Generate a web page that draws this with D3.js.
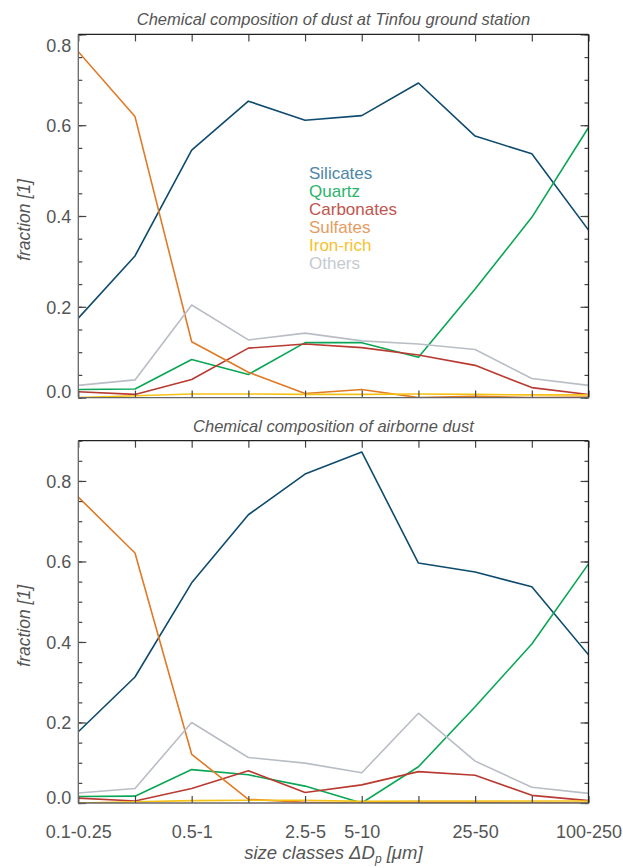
<!DOCTYPE html>
<html>
<head>
<meta charset="utf-8">
<script src="https://cdn.jsdelivr.net/npm/d3@7"></script>
<style>
  body { margin: 0; background: #fff; }
  svg { display: block; font-family: "Liberation Sans", Arial, Helvetica, sans-serif; }
</style>
</head>
<body>
<div class="chart"></div>
<script>
// size classes (um)
var categories = ["0.1-0.25", "0.25-0.5", "0.5-1", "1-2.5", "2.5-5", "5-10", "10-25", "25-50", "50-100", "100-250"];
var shownLabels = ["0.1-0.25", "0.5-1", "2.5-5", "5-10", "25-50", "100-250"];
var seriesNames = ["Silicates", "Quartz", "Carbonates", "Sulfates", "Iron-rich", "Others"];

// ground station
var groundSilicates  = [0.175, 0.312, 0.545, 0.653, 0.611, 0.621, 0.693, 0.576, 0.537, 0.369];
var groundQuartz     = [0.018, 0.019, 0.084, 0.051, 0.121, 0.121, 0.089, 0.239, 0.397, 0.595];
var groundCarbonates = [0.013, 0.007, 0.040, 0.109, 0.118, 0.110, 0.094, 0.071, 0.022, 0.007];
var groundSulfates   = [0.762, 0.619, 0.123, 0.056, 0.009, 0.018, 0.000, 0.003, 0.000, 0.001];
var groundIronRich   = [0.000, 0.004, 0.008, 0.008, 0.007, 0.007, 0.008, 0.007, 0.006, 0.006];
var groundOthers     = [0.027, 0.039, 0.204, 0.127, 0.142, 0.125, 0.118, 0.106, 0.042, 0.027];

// airborne
var airSilicates  = [0.177, 0.313, 0.547, 0.716, 0.817, 0.872, 0.596, 0.574, 0.537, 0.368];
var airQuartz     = [0.016, 0.017, 0.083, 0.070, 0.042, 0.000, 0.090, 0.239, 0.395, 0.594];
var airCarbonates = [0.012, 0.005, 0.036, 0.080, 0.026, 0.045, 0.078, 0.069, 0.019, 0.006];
var airSulfates   = [0.760, 0.621, 0.121, 0.009, 0.002, 0.000, 0.002, 0.002, 0.001, 0.000];
var airIronRich   = [0.000, 0.003, 0.006, 0.007, 0.007, 0.004, 0.005, 0.005, 0.005, 0.005];
var airOthers     = [0.025, 0.036, 0.200, 0.113, 0.099, 0.075, 0.223, 0.104, 0.039, 0.024];

var lineColors = ["#0e4b6f", "#0aa656", "#b93a31", "#e07a25", "#f5c214", "#b9bdc6"];
var legendColors = ["#4c86a8", "#2db46b", "#c1554d", "#e69c5f", "#f6c22e", "#c6cad1"];

var width = 623, height = 868;
var left = 78.3, right = 588.5;

var svg = d3.select(".chart").append("svg")
    .attr("width", width)
    .attr("height", height);

var x = d3.scalePoint().domain(categories).range([left, right]);

function drawPanel(id, top, bottom, ymax, series, title, showXLabels) {
    var y = d3.scaleLinear().domain([0, ymax]).range([bottom, top]);
    var g = svg.append("g").attr("class", "panel-" + id);

    g.append("clipPath").attr("id", "clip-" + id)
      .append("rect")
        .attr("x", left).attr("y", top)
        .attr("width", right - left).attr("height", bottom - top);

    // title
    g.append("text")
        .attr("x", (left + right) / 2)
        .attr("y", top - 9)
        .attr("text-anchor", "middle")
        .style("font-size", "16.5px")
        .style("font-style", "italic")
        .style("fill", "#555")
        .text(title);

    // lines
    var line = d3.line()
        .x(function(d, i) { return x(categories[i]); })
        .y(function(d) { return y(d); });

    g.append("g")
        .attr("clip-path", "url(#clip-" + id + ")")
      .selectAll("path")
        .data(series)
        .enter().append("path")
        .attr("d", line)
        .attr("fill", "none")
        .attr("stroke", function(d, i) { return lineColors[i]; })
        .attr("stroke-width", 1.6)
        .attr("stroke-linejoin", "round");

    var major = d3.range(0, ymax + 0.001, 0.2);
    var minor = d3.range(0, ymax + 0.001, 0.05);

    // minor y ticks both sides
    g.append("g").attr("transform", "translate(" + left + ",0)")
        .call(d3.axisLeft(y).tickValues(minor).tickSizeInner(-4).tickSizeOuter(0).tickFormat(""));
    g.append("g").attr("transform", "translate(" + right + ",0)")
        .call(d3.axisRight(y).tickValues(minor).tickSizeInner(-4).tickSizeOuter(0).tickFormat(""));

    // major y ticks + labels
    var yAx = g.append("g").attr("transform", "translate(" + left + ",0)")
        .call(d3.axisLeft(y).tickValues(major).tickSizeInner(-8).tickSizeOuter(0).tickPadding(7)
            .tickFormat(d3.format(".1f")));
    yAx.selectAll("text")
        .style("font-size", "18px")
        .style("fill", "#555")
        .attr("dy", function(d) {
            if (Math.abs(d - 0.8) < 1e-6 && ymax < 0.85) return "0.95em";
            if (d === 0) return "0.0em";
            return "0.35em";
        });
    g.append("g").attr("transform", "translate(" + right + ",0)")
        .call(d3.axisRight(y).tickValues(major).tickSizeInner(-8).tickSizeOuter(0).tickFormat(""));

    // x ticks bottom & top
    var xAx = g.append("g").attr("transform", "translate(0," + bottom + ")")
        .call(d3.axisBottom(x).tickSizeInner(-7).tickSizeOuter(0).tickPadding(22)
            .tickFormat(function(d) { return showXLabels && shownLabels.indexOf(d) >= 0 ? d : ""; }));
    xAx.selectAll("text")
        .style("font-size", "18px")
        .style("fill", "#555");
    g.append("g").attr("transform", "translate(0," + top + ")")
        .call(d3.axisTop(x).tickSizeInner(-7).tickSizeOuter(0).tickFormat(""));

    g.selectAll(".domain").remove();
    g.selectAll(".tick line").attr("stroke", "#444").attr("stroke-width", 1.2);

    // frame
    g.append("line").attr("x1", left).attr("x2", right).attr("y1", top).attr("y2", top)
        .attr("stroke", "#222").attr("stroke-width", 1.3);
    g.append("line").attr("x1", right).attr("x2", right).attr("y1", top).attr("y2", bottom)
        .attr("stroke", "#222").attr("stroke-width", 1.3);
    g.append("line").attr("x1", left).attr("x2", left).attr("y1", top).attr("y2", bottom)
        .attr("stroke", "#666").attr("stroke-width", 1.3);
    g.append("line").attr("x1", left).attr("x2", right).attr("y1", bottom).attr("y2", bottom)
        .attr("stroke", "#666").attr("stroke-width", 1.3);

    // y axis title
    g.append("text")
        .attr("transform", "translate(24," + ((top + bottom) / 2 + 4) + ") rotate(-90)")
        .attr("text-anchor", "middle")
        .attr("dy", "0.35em")
        .style("font-size", "17.5px")
        .style("font-style", "italic")
        .style("fill", "#555")
        .text("fraction [1]");

    return y;
}

drawPanel("ground", 34.4, 397.6, 0.8,
    [groundSilicates, groundQuartz, groundCarbonates, groundSulfates, groundIronRich, groundOthers],
    "Chemical composition of dust at Tinfou ground station", false);

drawPanel("air", 440.7, 803, 0.9,
    [airSilicates, airQuartz, airCarbonates, airSulfates, airIronRich, airOthers],
    "Chemical composition of airborne dust", true);

// legend in upper panel
var legend = svg.append("g").attr("class", "legend");
legend.selectAll("text")
    .data(seriesNames)
    .enter().append("text")
    .attr("x", 309)
    .attr("y", function(d, i) { return 179 + i * 17.9; })
    .style("font-size", "17px")
    .style("fill", function(d, i) { return legendColors[i]; })
    .text(function(d) { return d; });

// x axis title
var xt = svg.append("text")
    .attr("x", (left + right) / 2)
    .attr("y", 859)
    .attr("text-anchor", "middle")
    .style("font-size", "18.5px")
    .style("font-style", "italic")
    .style("fill", "#555");
xt.append("tspan").text("size classes \u0394D");
xt.append("tspan").attr("dy", 4).style("font-size", "12px").text("p");
xt.append("tspan").attr("dy", -4).text(" [\u03bcm]");
</script>
</body>
</html>
